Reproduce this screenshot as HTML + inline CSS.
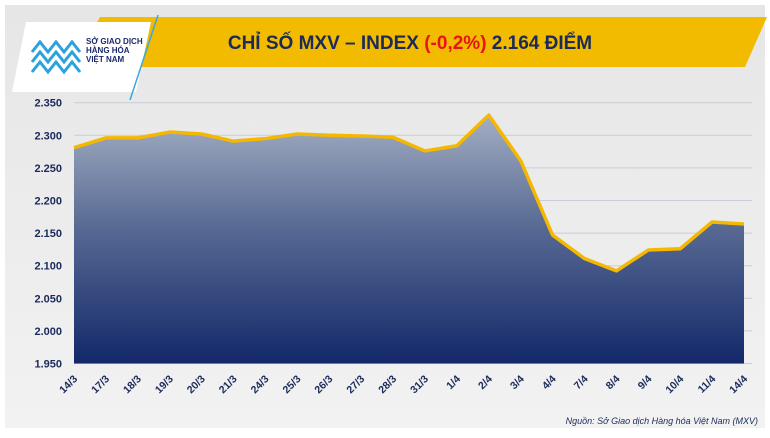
<!DOCTYPE html>
<html><head><meta charset="utf-8"><style>
body{margin:0;width:770px;height:433px;overflow:hidden;background:#fff;font-family:"Liberation Sans",sans-serif}
</style></head><body>
<svg width="770" height="433" viewBox="0 0 770 433">
<defs>
<linearGradient id="bg" x1="0" y1="0" x2="0" y2="1"><stop offset="0" stop-color="#e6e6e6"/><stop offset="1" stop-color="#f2f2f2"/></linearGradient>
<linearGradient id="fill" x1="0" y1="0" x2="0" y2="1"><stop offset="0" stop-color="#a3aec3"/><stop offset="0.45" stop-color="#586a93"/><stop offset="1" stop-color="#13286a"/></linearGradient>
</defs>
<rect x="5" y="5" width="760" height="423" fill="url(#bg)"/>
<polygon points="100,17 767,17 745,67 72,67" fill="#f2bb00"/>
<polygon points="26,22 151,22 136,92 12,92" fill="#fff"/>
<line x1="158" y1="15" x2="130" y2="100" stroke="#3aa8e0" stroke-width="1.5"/>
<g fill="none" stroke="#2aa3dd" stroke-width="3">
<path d="M32,52 l8,-10 l8,10 l8,-10 l8,10 l8,-10 l8,10"/><path d="M32,62 l8,-10 l8,10 l8,-10 l8,10 l8,-10 l8,10"/><path d="M32,72 l8,-10 l8,10 l8,-10 l8,10 l8,-10 l8,10"/>
</g>
<text x="86" y="44" font-size="8" font-weight="bold" fill="#1a2a6c"><tspan x="86">SỞ GIAO DỊCH</tspan><tspan x="86" dy="9">HÀNG HÓA</tspan><tspan x="86" dy="9">VIỆT NAM</tspan></text>
<text x="410" y="49" text-anchor="middle" font-size="19" font-weight="bold" fill="#1a2a5a">CHỈ SỐ MXV – INDEX <tspan fill="#e8141b">(-0,2%)</tspan> 2.164 ĐIỂM</text>
<g id="grid"></g><g id="plot"></g><g id="ylab"></g><g id="xlab"></g>
<text x="758" y="424" text-anchor="end" font-size="9" font-style="italic" fill="#1a2a5a">Nguồn: Sở Giao dịch Hàng hóa Việt Nam (MXV)</text>
</svg>
<script>
const categories=["14/3","17/3","18/3","19/3","20/3","21/3","24/3","25/3","26/3","27/3","28/3","31/3","1/4","2/4","3/4","4/4","7/4","8/4","9/4","10/4","11/4","14/4"];
const values=[2281,2296,2296,2305,2302,2291,2295,2302,2300,2299,2297,2276,2284,2331,2261,2147,2111,2092,2124,2126,2167,2164];
const yTicks=[1950,2000,2050,2100,2150,2200,2250,2300,2350];
const NS="http://www.w3.org/2000/svg";
const x0=74,x1=744,yTop=102.7,yBot=363.5,vMin=1950,vMax=2350;
const xs=i=>x0+i*(x1-x0)/(categories.length-1);
const ys=v=>yBot-(v-vMin)/(vMax-vMin)*(yBot-yTop);
const fmt=v=>(v/1000).toFixed(3).replace('.', '.');
function mk(t,a,p){const e=document.createElementNS(NS,t);for(const k in a)e.setAttribute(k,a[k]);p.appendChild(e);return e;}
const g=document.getElementById('grid'),yl=document.getElementById('ylab'),xl=document.getElementById('xlab'),pl=document.getElementById('plot');
yTicks.forEach(v=>{
const l=mk('line',{x1:x0,x2:752,y1:ys(v),y2:ys(v),stroke:'#c8cdd6','stroke-width':1},g);


const t=mk('text',{x:62,y:ys(v)+4,'text-anchor':'end','font-size':11,'font-weight':'bold',fill:'#1a2a5a'},yl);
t.textContent=fmt(v);


});
let pts=values.map((v,i)=>xs(i)+','+ys(v)).join(' ');
const a=mk('polygon',{points:x0+','+yBot+' '+pts+' '+x1+','+yBot,fill:'url(#fill)'},pl);


const ln=mk('polyline',{points:pts,fill:'none',stroke:'#f5b800','stroke-width':3.5,'stroke-linejoin':'round'},pl);


categories.forEach((c,i)=>{
const x=xs(i)+4,y=yBot+16;
const t=mk('text',{x:x,y:y,'text-anchor':'end','font-size':10.5,'font-weight':'bold',fill:'#1a2a5a',transform:'rotate(-45 '+x+' '+y+')'},xl);
t.textContent=c;


});
</script>
</body></html>
